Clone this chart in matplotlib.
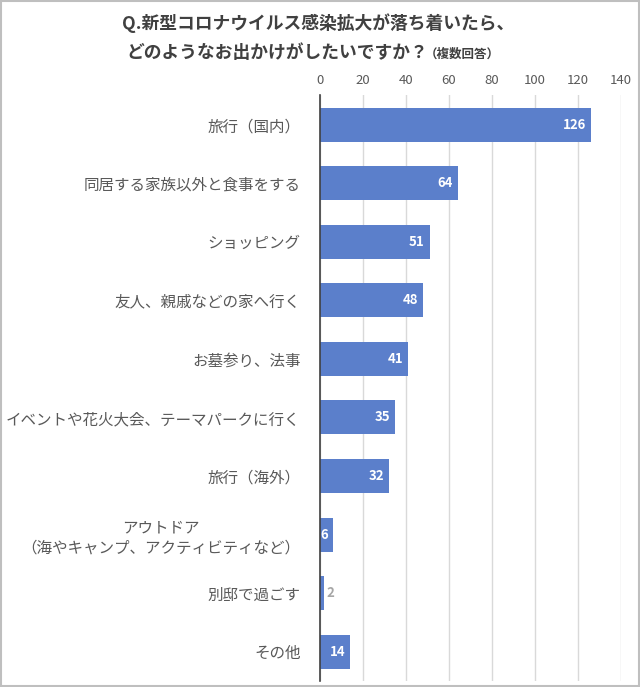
import matplotlib
matplotlib.use("Agg")
import matplotlib.pyplot as plt
from matplotlib.patches import Rectangle

plt.rcParams['font.family'] = ['Noto Sans CJK JP', 'DejaVu Sans']

categories = ["旅行（国内）", "同居する家族以外と食事をする", "ショッピング",
              "友人、親戚などの家へ行く", "お墓参り、法事",
              "イベントや花火大会、テーマパークに行く", "旅行（海外）",
              "アウトドア\n（海やキャンプ、アクティビティなど）", "別邸で過ごす", "その他"]
values = [126, 64, 51, 48, 41, 35, 32, 6, 2, 14]
xticks = [0, 20, 40, 60, 80, 100, 120, 140]

fig = plt.figure(figsize=(6.4, 6.87), dpi=100)
ax = fig.add_axes([0.5, 0.0087, 0.4703, 0.8526])

bar_color = '#5B7FCB'
y = list(range(len(categories)))
ax.barh(y, values, height=0.58, color=bar_color, zorder=3)
ax.set_ylim(len(categories) - 0.5, -0.5)
ax.set_xlim(0, 140)
ax.set_xticks(xticks)
ax.xaxis.tick_top()
ax.tick_params(axis='x', length=0, labelsize=9.5, colors='#595959', pad=6)
ax.tick_params(axis='y', length=0, labelsize=11.2, colors='#595959', pad=14)
ax.set_yticks(y)
ax.set_yticklabels(categories, multialignment='center')
ax.grid(axis='x', color='#D9D9D9', linewidth=1, zorder=0)
for s in ['top', 'right', 'bottom']:
    ax.spines[s].set_visible(False)
ax.spines['left'].set_color('#404040')
ax.spines['left'].set_linewidth(1.2)
ax.spines['left'].set_zorder(4)

for yi, v in zip(y, values):
    if v >= 5:
        ax.text(v - 2.3, yi, str(v), ha='right', va='center', color='white',
                fontsize=9.5, fontweight='bold', zorder=5)
    else:
        ax.text(v + 1.2, yi, str(v), ha='left', va='center', color='#A6A6A6',
                fontsize=9.5, fontweight='bold', zorder=5)

fig.text(0.497, 1 - 23 / 687, "Q.新型コロナウイルス感染拡大が落ち着いたら、", ha='center', va='center',
         fontsize=12.8, fontweight='bold', color='#404040')
fig.text(0.669, 1 - 53 / 687, "どのようなお出かけがしたいですか？", ha='right', va='center',
         fontsize=12.8, fontweight='bold', color='#404040')
fig.text(0.664, 1 - 54 / 687, "（複数回答）", ha='left', va='center',
         fontsize=9, fontweight='bold', color='#404040')

fig.patches.append(Rectangle((0.001, 0.001), 0.998, 0.998, transform=fig.transFigure,
                             fill=False, edgecolor='#BFBFBF', linewidth=1.5))
fig.savefig('out.png', dpi=100)
